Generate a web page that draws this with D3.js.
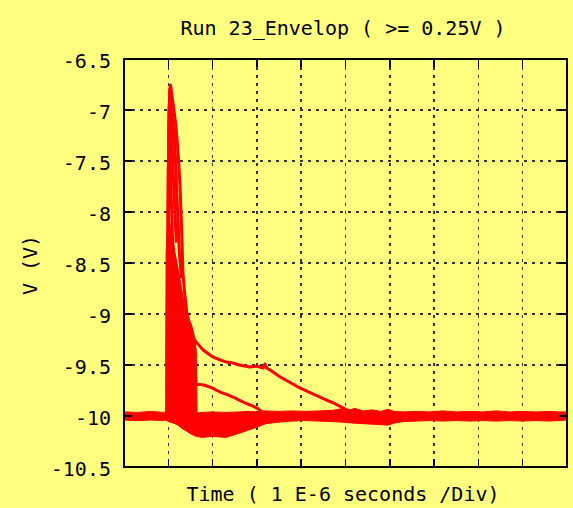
<!DOCTYPE html>
<html>
<head>
<meta charset="utf-8">
<script src="https://cdn.jsdelivr.net/npm/d3@7"></script>
<style>
  html, body { margin: 0; padding: 0; background: #ffff80; }
  svg { display: block; }
</style>
</head>
<body>
<svg id="chart"></svg>
<script>
const chartTitle = 'Run 23_Envelop ( >= 0.25V )';
const xLabel = 'Time ( 1 E-6 seconds /Div)';
const yLabel = 'V (V)';

const xTicks = [0, 1, 2, 3, 4, 5, 6, 7, 8, 9, 10];
const yTicks = [-10.5, -10, -9.5, -9, -8.5, -8, -7.5, -7, -6.5];
const yTickLabels = ['-10.5', '-10', '-9.5', '-9', '-8.5', '-8', '-7.5', '-7', '-6.5'];

// envelope band of all runs: [time (us), upper V, lower V]
const band = [
    [0, -9.96, -10.04], [0.3, -9.965, -10.045], [0.6, -9.955, -10.04], [0.9, -9.965, -10.045],
    [0.94, -9.96, -10.04], [0.95, -8.4, -10.045], [0.99, -8.15, -10.05], [1.03, -8.1, -10.06],
    [1.08, -8.2, -10.065], [1.15, -8.4, -10.075], [1.22, -8.55, -10.09], [1.3, -8.75, -10.12],
    [1.38, -8.95, -10.14], [1.45, -9.05, -10.16], [1.52, -9.1, -10.18], [1.58, -9.2, -10.19],
    [1.63, -9.35, -10.2], [1.65, -9.97, -10.2], [1.76, -9.965, -10.21], [2.0, -9.96, -10.2],
    [2.3, -9.965, -10.21], [2.6, -9.96, -10.17], [2.8, -9.955, -10.14], [3.0, -9.96, -10.11],
    [3.2, -9.95, -10.075], [3.5, -9.955, -10.06], [3.8, -9.95, -10.05], [4.1, -9.955, -10.045],
    [4.4, -9.95, -10.05], [4.7, -9.945, -10.055], [4.9, -9.93, -10.06], [5.05, -9.95, -10.065],
    [5.2, -9.925, -10.07], [5.4, -9.95, -10.075], [5.6, -9.94, -10.08], [5.8, -9.955, -10.085],
    [5.95, -9.935, -10.09], [6.1, -9.955, -10.07], [6.3, -9.96, -10.055], [6.6, -9.955, -10.05],
    [6.9, -9.96, -10.045], [7.2, -9.95, -10.05], [7.5, -9.96, -10.045], [7.8, -9.955, -10.05],
    [8.1, -9.96, -10.045], [8.4, -9.95, -10.05], [8.7, -9.96, -10.045], [9.0, -9.955, -10.05],
    [9.3, -9.96, -10.045], [9.6, -9.955, -10.05], [9.8, -9.96, -10.045], [10, -9.96, -10.04]
];

// single traces standing out of the band: [time (us), V]
const spikeOuter = [
    [0.97, -9.5], [1.0, -7.6], [1.03, -6.8], [1.05, -6.755], [1.08, -6.85], [1.12, -6.98],
    [1.17, -7.15], [1.2, -7.3], [1.24, -7.55], [1.27, -7.8], [1.29, -8.05], [1.31, -8.3],
    [1.33, -8.6], [1.37, -8.8], [1.42, -8.99], [1.48, -9.1], [1.53, -9.19], [1.6, -9.26],
    [1.7, -9.31], [1.78, -9.35], [1.9, -9.39], [2.0, -9.42], [2.17, -9.45], [2.3, -9.47],
    [2.46, -9.48], [2.6, -9.5], [2.84, -9.52], [3.0, -9.51], [3.14, -9.53], [3.18, -9.49],
    [3.22, -9.53], [3.3, -9.55], [3.5, -9.61], [3.7, -9.66], [3.97, -9.725], [4.2, -9.77],
    [4.4, -9.81], [4.6, -9.85], [4.72, -9.87], [4.9, -9.91], [5.03, -9.94], [5.2, -9.96]
];
const spikeMid = [
    [1.0, -8.3], [1.02, -7.2], [1.04, -6.85], [1.07, -7.0], [1.1, -7.12], [1.14, -7.29],
    [1.17, -7.55], [1.19, -7.8], [1.22, -8.1], [1.25, -8.4], [1.3, -8.65]
];
const spikeSecond = [
    [1.0, -8.0], [1.02, -7.0], [1.04, -6.9], [1.06, -7.1], [1.09, -7.35], [1.12, -7.7],
    [1.15, -8.0], [1.18, -8.3]
];
const spikeInner = [
    [0.99, -8.5], [1.0, -7.6], [1.02, -6.95], [1.035, -7.2], [1.05, -7.6], [1.07, -7.9],
    [1.09, -8.2], [1.12, -8.5]
];
const traceLow = [
    [1.6, -9.5], [1.63, -9.7], [1.7, -9.69], [1.8, -9.695], [1.87, -9.706], [1.99, -9.725],
    [2.1, -9.75], [2.2, -9.77], [2.33, -9.79], [2.46, -9.814], [2.6, -9.845], [2.75, -9.875],
    [2.9, -9.9], [3.0, -9.922], [3.12, -9.96]
];

const W = 573, H = 508;
const margin = { top: 59, right: 6, bottom: 41, left: 124 };
const font = '"DejaVu Sans Mono", monospace';

const svg = d3.select('#chart').attr('width', W).attr('height', H);
svg.append('rect').attr('width', W).attr('height', H).attr('fill', '#ffff80');

const x = d3.scaleLinear().domain([0, 10]).range([margin.left, W - margin.right]);
const y = d3.scaleLinear().domain([-10.5, -6.5]).range([H - margin.bottom, margin.top]);
const [x0, x1] = x.range();
const [y0, y1] = y.range();

// Grid
const grid = svg.append('g').attr('stroke', '#333').attr('stroke-width', 1.5)
    .attr('stroke-dasharray', '3,5').attr('shape-rendering', 'crispEdges');
grid.selectAll('.gx').data(xTicks.slice(1, -1)).enter().append('line')
    .attr('x1', d => x(d)).attr('x2', d => x(d)).attr('y1', y1).attr('y2', y0);
grid.selectAll('.gy').data(yTicks.slice(1, -1)).enter().append('line')
    .attr('x1', x0).attr('x2', x1).attr('y1', d => y(d)).attr('y2', d => y(d));

// Data
svg.append('clipPath').attr('id', 'plot-clip').append('rect')
    .attr('x', x0).attr('y', y1).attr('width', x1 - x0).attr('height', y0 - y1);
const plot = svg.append('g').attr('clip-path', 'url(#plot-clip)');

plot.append('path').datum(band)
    .attr('fill', '#ff0000').attr('stroke', '#ff0000').attr('stroke-width', 1)
    .attr('d', d3.area().x(d => x(d[0])).y0(d => y(d[2])).y1(d => y(d[1])));

const line = d3.line().x(d => x(d[0])).y(d => y(d[1]));
[spikeOuter, spikeMid, spikeSecond, spikeInner, traceLow].forEach(s => {
    plot.append('path').datum(s)
        .attr('fill', 'none').attr('stroke', '#ff0000').attr('stroke-width', 3)
        .attr('stroke-linejoin', 'round')
        .attr('d', line);
});

// Axes: frame with inward ticks on all four sides
const axes = svg.append('g').attr('stroke', '#000').attr('stroke-width', 1.5)
    .attr('shape-rendering', 'crispEdges');
axes.append('rect').attr('x', x0).attr('y', y1).attr('width', x1 - x0).attr('height', y0 - y1)
    .attr('fill', 'none');
const tl = 8;
axes.selectAll('.tb').data(xTicks).enter().append('line')
    .attr('x1', d => x(d)).attr('x2', d => x(d)).attr('y1', y0).attr('y2', y0 - tl);
axes.selectAll('.tt').data(xTicks).enter().append('line')
    .attr('x1', d => x(d)).attr('x2', d => x(d)).attr('y1', y1).attr('y2', y1 + tl);
axes.selectAll('.tlft').data(yTicks).enter().append('line')
    .attr('x1', x0).attr('x2', x0 + tl).attr('y1', d => y(d)).attr('y2', d => y(d));
axes.selectAll('.trgt').data(yTicks).enter().append('line')
    .attr('x1', x1).attr('x2', x1 - tl).attr('y1', d => y(d)).attr('y2', d => y(d));

// Tick labels
svg.append('g').selectAll('text').data(yTicks).enter().append('text')
    .attr('x', x0 - 13).attr('y', d => y(d) + 9)
    .attr('text-anchor', 'end')
    .attr('font-family', font).attr('font-size', '20px').attr('fill', '#000')
    .text((d, i) => yTickLabels[i]);

// Title and labels
svg.append('text').attr('x', 343).attr('y', 35)
    .attr('text-anchor', 'middle').attr('font-family', font).attr('font-size', '20px').attr('fill', '#000')
    .text(chartTitle);
svg.append('text').attr('x', 343).attr('y', 501)
    .attr('text-anchor', 'middle').attr('font-family', font).attr('font-size', '20px').attr('fill', '#000')
    .text(xLabel);
svg.append('text').attr('transform', `translate(37,${(y0 + y1) / 2 + 2}) rotate(-90)`)
    .attr('text-anchor', 'middle').attr('font-family', font).attr('font-size', '20px').attr('fill', '#000')
    .text(yLabel);
</script>
</body>
</html>
